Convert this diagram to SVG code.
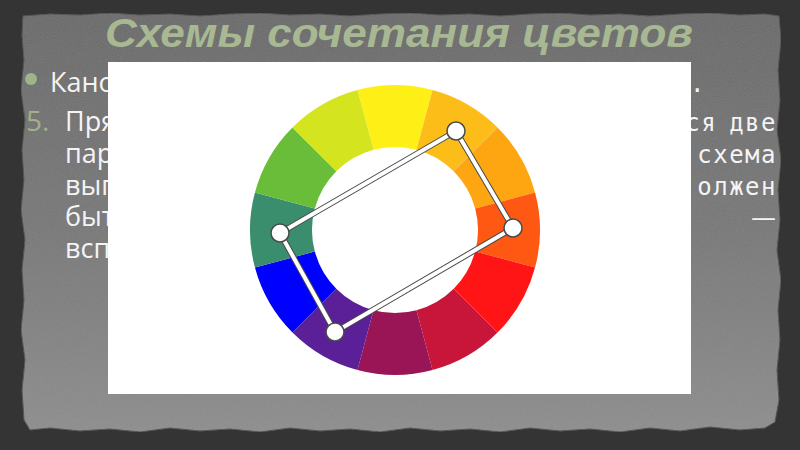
<svg xmlns="http://www.w3.org/2000/svg" width="800" height="450" viewBox="0 0 800 450">
<defs>
<linearGradient id="paper" x1="0" y1="0" x2="0" y2="1">
<stop offset="0" stop-color="#676767"/>
<stop offset="0.55" stop-color="#777777"/>
<stop offset="1" stop-color="#8c8c8c"/>
</linearGradient>
<filter id="grain" x="0" y="0" width="100%" height="100%">
<feTurbulence type="fractalNoise" baseFrequency="0.8" numOctaves="2" seed="3" result="n"/>
<feColorMatrix in="n" type="matrix" values="0 0 0 0 0.5  0 0 0 0 0.5  0 0 0 0 0.5  0 0 0 0.15 0" result="g"/>
<feComposite in="g" in2="SourceGraphic" operator="in" result="gi"/>
<feMerge><feMergeNode in="SourceGraphic"/><feMergeNode in="gi"/></feMerge>
</filter>
</defs>
<style>
.body{font-family:"Open Sans","Noto Sans",sans-serif;font-size:27px;fill:#f4f4f4}
.mono{font-family:"DejaVu Sans Mono","Liberation Mono",monospace;font-size:24px;letter-spacing:1.5px;word-spacing:-4px;fill:#f4f4f4}
.dash{font-family:"DejaVu Sans","Liberation Sans",sans-serif;font-size:25px;fill:#f4f4f4}
.num{font-family:"Open Sans","Noto Sans",sans-serif;font-size:28px;fill:#a3b08a}
.title{font-family:"Liberation Sans",Arial,sans-serif;font-size:41px;font-weight:bold;font-style:italic;fill:#a8b893}
.edge{fill:none;stroke:#4a4a4a;stroke-width:6;stroke-linejoin:round}
.edgein{fill:none;stroke:#ffffff;stroke-width:4;stroke-linejoin:round}
.vtx{fill:#ffffff;stroke:#4a4a4a;stroke-width:1.5}
</style>
<g id="background">
<rect x="0" y="0" width="800" height="450" fill="#343434"/>
<polygon filter="url(#grain)" fill="url(#paper)" stroke="#4a4a4a" stroke-width="1" points="23,16 50,14 80,15 110,13 140,15 170,14 200,16 230,14 260,13 290,15 320,14 350,16 380,14 410,13 440,15 470,14 500,16 530,14 560,13 590,15 620,14 650,16 680,14 710,13 740,15 765,14 779,16 781,40 778,70 780,100 777,130 781,160 778,190 780,220 777,250 781,280 778,310 780,340 777,370 779,400 775,422 765,428 740,430 710,427 680,431 650,428 620,432 590,429 560,431 530,428 500,432 470,429 440,431 410,428 380,432 350,429 320,431 290,428 260,432 230,429 200,431 170,428 140,432 110,429 80,431 50,428 30,430 24,420 22,390 25,360 21,330 24,300 22,270 25,240 21,210 24,180 22,150 25,120 21,90 24,60 22,35"/>
</g>
<g id="title">
<text class="title" x="399" y="47" text-anchor="middle" textLength="588" lengthAdjust="spacingAndGlyphs">Схемы сочетания цветов</text>
</g>
<g id="text">
<circle cx="31" cy="79" r="6" fill="#9fb48a"/>
<text class="body" x="50" y="92">Кано</text>
<text class="mono" x="690" y="92">.</text>
<text class="num" x="26" y="131">5.</text>
<text class="body" x="65" y="131">Пря</text>
<text class="mono" x="777" y="131" text-anchor="end">ся две</text>
<text class="body" x="65" y="163">пар</text>
<text class="mono" x="777" y="163" text-anchor="end">схема</text>
<text class="body" x="65" y="195">вып</text>
<text class="mono" x="777" y="195" text-anchor="end">олжен</text>
<text class="body" x="65" y="226">быт</text>
<text class="dash" x="776" y="226" text-anchor="end">—</text>
<text class="body" x="65" y="258">всп</text>
</g>
<g id="picture">
<rect x="108" y="62" width="583" height="332" fill="#ffffff"/>
</g>
<g id="wheel">
<path fill="#fef016" d="M357.47,89.94 A145,145 0 0 1 432.53,89.94 L416.48,149.83 A83,83 0 0 0 373.52,149.83 Z"/>
<path fill="#fdbd18" d="M432.53,89.94 A145,145 0 0 1 497.53,127.47 L453.69,171.31 A83,83 0 0 0 416.48,149.83 Z"/>
<path fill="#fea512" d="M497.53,127.47 A145,145 0 0 1 535.06,192.47 L475.17,208.52 A83,83 0 0 0 453.69,171.31 Z"/>
<path fill="#ff5812" d="M535.06,192.47 A145,145 0 0 1 535.06,267.53 L475.17,251.48 A83,83 0 0 0 475.17,208.52 Z"/>
<path fill="#ff1515" d="M535.06,267.53 A145,145 0 0 1 497.53,332.53 L453.69,288.69 A83,83 0 0 0 475.17,251.48 Z"/>
<path fill="#c7163a" d="M497.53,332.53 A145,145 0 0 1 432.53,370.06 L416.48,310.17 A83,83 0 0 0 453.69,288.69 Z"/>
<path fill="#9a1556" d="M432.53,370.06 A145,145 0 0 1 357.47,370.06 L373.52,310.17 A83,83 0 0 0 416.48,310.17 Z"/>
<path fill="#5b1f98" d="M357.47,370.06 A145,145 0 0 1 292.47,332.53 L336.31,288.69 A83,83 0 0 0 373.52,310.17 Z"/>
<path fill="#0000fe" d="M292.47,332.53 A145,145 0 0 1 254.94,267.53 L314.83,251.48 A83,83 0 0 0 336.31,288.69 Z"/>
<path fill="#3a8e6e" d="M254.94,267.53 A145,145 0 0 1 254.94,192.47 L314.83,208.52 A83,83 0 0 0 314.83,251.48 Z"/>
<path fill="#6abd38" d="M254.94,192.47 A145,145 0 0 1 292.47,127.47 L336.31,171.31 A83,83 0 0 0 314.83,208.52 Z"/>
<path fill="#d4e41e" d="M292.47,127.47 A145,145 0 0 1 357.47,89.94 L373.52,149.83 A83,83 0 0 0 336.31,171.31 Z"/>
</g>
<g id="connectors">
<polygon class="edge" points="456,131 513,228 335,332 280,233"/>
<polygon class="edgein" points="456,131 513,228 335,332 280,233"/>
</g>
<g id="node-top"><circle class="vtx" cx="456" cy="131" r="9"/></g>
<g id="node-right"><circle class="vtx" cx="513" cy="228" r="9"/></g>
<g id="node-bottom"><circle class="vtx" cx="335" cy="332" r="9"/></g>
<g id="node-left"><circle class="vtx" cx="280" cy="233" r="9"/></g>
</svg>
